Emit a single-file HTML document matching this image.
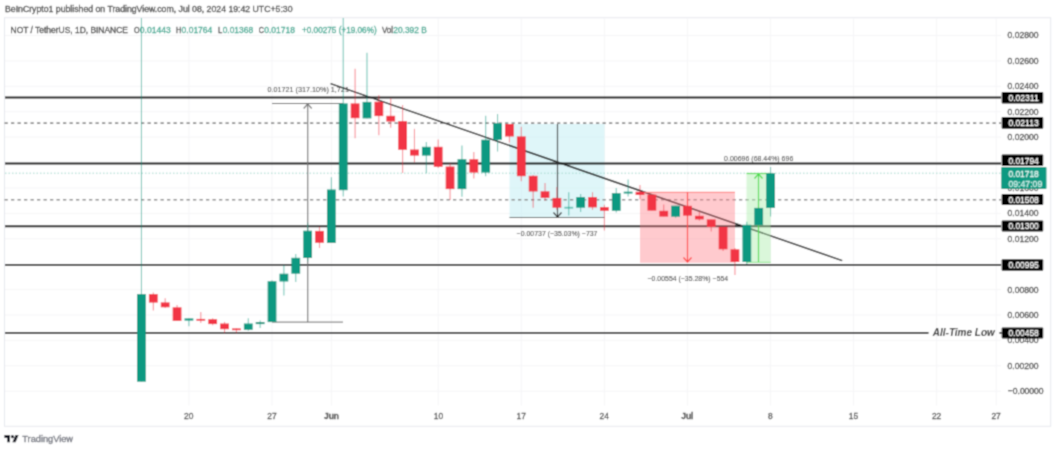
<!DOCTYPE html>
<html><head><meta charset="utf-8"><style>
html,body{margin:0;padding:0;background:#fff;}
body{width:1058px;height:452px;overflow:hidden;}
svg{display:block;font-family:"Liberation Sans",sans-serif;}
</style></head><body>
<svg width="1058" height="452" viewBox="0 0 1058 452">
<defs><filter id="bl" x="0" y="0" width="100%" height="100%"><feConvolveMatrix order="3" kernelMatrix="1 3.0 1 3.0 9.0 3.0 1 3.0 1" edgeMode="duplicate" preserveAlpha="true"/></filter></defs>
<g filter="url(#bl)">
<rect width="1058" height="452" fill="#fff"/>

<text x="5.0" y="12.4" font-size="8.7" fill="#444" stroke="#444" stroke-width="0.3" font-weight="normal" font-style="normal" textLength="287.5" lengthAdjust="spacingAndGlyphs">BeInCrypto1 published on TradingView.com, Jul 08, 2024 19:42 UTC+5:30</text>
<rect x="4.5" y="17.75" width="1046.2" height="408.5" fill="none" stroke="#e6e8ee" stroke-width="1"/>
<line x1="5" y1="35.5" x2="1001" y2="35.5" stroke="#f5f5f7" stroke-width="1"/>
<line x1="5" y1="60.9" x2="1001" y2="60.9" stroke="#f5f5f7" stroke-width="1"/>
<line x1="5" y1="86.3" x2="1001" y2="86.3" stroke="#f5f5f7" stroke-width="1"/>
<line x1="5" y1="111.7" x2="1001" y2="111.7" stroke="#f5f5f7" stroke-width="1"/>
<line x1="5" y1="137.1" x2="1001" y2="137.1" stroke="#f5f5f7" stroke-width="1"/>
<line x1="5" y1="162.5" x2="1001" y2="162.5" stroke="#f5f5f7" stroke-width="1"/>
<line x1="5" y1="188.0" x2="1001" y2="188.0" stroke="#f5f5f7" stroke-width="1"/>
<line x1="5" y1="213.4" x2="1001" y2="213.4" stroke="#f5f5f7" stroke-width="1"/>
<line x1="5" y1="238.8" x2="1001" y2="238.8" stroke="#f5f5f7" stroke-width="1"/>
<line x1="5" y1="264.2" x2="1001" y2="264.2" stroke="#f5f5f7" stroke-width="1"/>
<line x1="5" y1="289.6" x2="1001" y2="289.6" stroke="#f5f5f7" stroke-width="1"/>
<line x1="5" y1="315.0" x2="1001" y2="315.0" stroke="#f5f5f7" stroke-width="1"/>
<line x1="5" y1="340.4" x2="1001" y2="340.4" stroke="#f5f5f7" stroke-width="1"/>
<line x1="5" y1="365.8" x2="1001" y2="365.8" stroke="#f5f5f7" stroke-width="1"/>
<line x1="5" y1="391.2" x2="1001" y2="391.2" stroke="#f5f5f7" stroke-width="1"/>
<line x1="188.9" y1="18" x2="188.9" y2="405.5" stroke="#f5f5f7" stroke-width="1"/>
<line x1="272.0" y1="18" x2="272.0" y2="405.5" stroke="#f5f5f7" stroke-width="1"/>
<line x1="331.4" y1="18" x2="331.4" y2="405.5" stroke="#f5f5f7" stroke-width="1"/>
<line x1="438.2" y1="18" x2="438.2" y2="405.5" stroke="#f5f5f7" stroke-width="1"/>
<line x1="521.3" y1="18" x2="521.3" y2="405.5" stroke="#f5f5f7" stroke-width="1"/>
<line x1="604.4" y1="18" x2="604.4" y2="405.5" stroke="#f5f5f7" stroke-width="1"/>
<line x1="687.4" y1="18" x2="687.4" y2="405.5" stroke="#f5f5f7" stroke-width="1"/>
<line x1="770.4" y1="18" x2="770.4" y2="405.5" stroke="#f5f5f7" stroke-width="1"/>
<line x1="853.5" y1="18" x2="853.5" y2="405.5" stroke="#f5f5f7" stroke-width="1"/>
<line x1="936.6" y1="18" x2="936.6" y2="405.5" stroke="#f5f5f7" stroke-width="1"/>
<line x1="996.2" y1="18" x2="996.2" y2="405.5" stroke="#f5f5f7" stroke-width="1"/>
<rect x="509.5" y="124" width="95" height="93.5" fill="#c5eff4" fill-opacity="0.55"/>
<line x1="5" y1="97.5" x2="1001" y2="97.5" stroke="#0c0c0c" stroke-width="1.8"/>
<line x1="5" y1="163.5" x2="1001" y2="163.5" stroke="#0c0c0c" stroke-width="1.8"/>
<line x1="5" y1="226.25" x2="1001" y2="226.25" stroke="#0c0c0c" stroke-width="1.8"/>
<line x1="5" y1="264.95" x2="1001" y2="264.95" stroke="#0c0c0c" stroke-width="1.8"/>
<line x1="5" y1="332.9" x2="928.5" y2="332.9" stroke="#0c0c0c" stroke-width="1.8"/>
<line x1="999.5" y1="332.9" x2="1001.5" y2="332.9" stroke="#0c0c0c" stroke-width="1.8"/>
<line x1="4.5" y1="123.1" x2="1001" y2="123.1" stroke="#8c8c8c" stroke-width="1.6" stroke-dasharray="3.3 3.2"/>
<line x1="4.5" y1="199.7" x2="1001" y2="199.7" stroke="#8c8c8c" stroke-width="1.6" stroke-dasharray="3.3 3.2"/>
<line x1="5" y1="173.2" x2="1001" y2="173.2" stroke="#9fd8cc" stroke-width="1" stroke-dasharray="1.5 2"/>
<line x1="330.6" y1="83.6" x2="842.2" y2="260.6" stroke="#111" stroke-width="1.5"/>
<rect x="640" y="192" width="95" height="70.8" fill="#ff8a93" fill-opacity="0.45"/>
<rect x="746.5" y="173.3" width="24.2" height="89.5" fill="#b5f0b5" fill-opacity="0.5"/>
<line x1="272" y1="103.5" x2="343" y2="103.5" stroke="#555" stroke-width="1.2"/>
<line x1="272" y1="322.1" x2="343" y2="322.1" stroke="#888" stroke-width="1.2"/>
<line x1="307.7" y1="322.1" x2="307.7" y2="104" stroke="#777" stroke-width="1.2"/>
<polyline points="303.7,108.5 307.7,104 311.7,108.5" fill="none" stroke="#777" stroke-width="1.2"/>
<line x1="509.5" y1="217.5" x2="604.5" y2="217.5" stroke="#555" stroke-width="1.2"/>
<line x1="557.5" y1="124" x2="557.5" y2="217" stroke="#333" stroke-width="1.2"/>
<polyline points="553.5,212.5 557.5,217 561.5,212.5" fill="none" stroke="#333" stroke-width="1.2"/>
<line x1="640" y1="192.3" x2="735" y2="192.3" stroke="#f77" stroke-width="1"/>
<line x1="687.5" y1="192" x2="687.5" y2="262" stroke="#f44" stroke-width="1.2"/>
<polyline points="683.5,257.5 687.5,262 691.5,257.5" fill="none" stroke="#f44" stroke-width="1.2"/>
<line x1="746.5" y1="173.5" x2="770.7" y2="173.5" stroke="#4cdc4c" stroke-width="1.2"/>
<line x1="746.5" y1="262.3" x2="770.7" y2="262.3" stroke="#8ee68e" stroke-width="1"/>
<line x1="758.5" y1="174" x2="758.5" y2="262" stroke="#4cdc4c" stroke-width="1.2"/>
<polyline points="754.5,178.5 758.5,174 762.5,178.5" fill="none" stroke="#4cdc4c" stroke-width="1.2"/>
<line x1="141.45" y1="18.0" x2="141.45" y2="381.7" stroke="#089981" stroke-width="1.1" opacity="0.55"/>
<rect x="137.05" y="294.1" width="8.8" height="87.60" fill="#089981"/>
<line x1="153.32" y1="292.6" x2="153.32" y2="310.4" stroke="#f23645" stroke-width="1.1" opacity="0.55"/>
<rect x="148.92" y="294.1" width="8.8" height="8.50" fill="#f23645"/>
<line x1="165.19" y1="298.2" x2="165.19" y2="308.0" stroke="#f23645" stroke-width="1.1" opacity="0.55"/>
<rect x="160.79" y="302.4" width="8.8" height="4.90" fill="#f23645"/>
<line x1="177.06" y1="305.0" x2="177.06" y2="321.0" stroke="#f23645" stroke-width="1.1" opacity="0.55"/>
<rect x="172.66" y="307.3" width="8.8" height="13.60" fill="#f23645"/>
<line x1="188.93" y1="318.0" x2="188.93" y2="326.2" stroke="#089981" stroke-width="1.1" opacity="0.55"/>
<rect x="184.53" y="318.4" width="8.8" height="2.20" fill="#089981"/>
<line x1="200.80" y1="311.9" x2="200.80" y2="323.1" stroke="#f23645" stroke-width="1.1" opacity="0.55"/>
<rect x="196.40" y="318.9" width="8.8" height="1.80" fill="#f23645"/>
<line x1="212.67" y1="318.2" x2="212.67" y2="325.3" stroke="#f23645" stroke-width="1.1" opacity="0.55"/>
<rect x="208.27" y="319.2" width="8.8" height="4.90" fill="#f23645"/>
<line x1="224.54" y1="321.9" x2="224.54" y2="333.2" stroke="#f23645" stroke-width="1.1" opacity="0.55"/>
<rect x="220.14" y="323.5" width="8.8" height="5.70" fill="#f23645"/>
<line x1="236.41" y1="328.0" x2="236.41" y2="333.2" stroke="#f23645" stroke-width="1.1" opacity="0.55"/>
<rect x="232.01" y="328.4" width="8.8" height="1.80" fill="#f23645"/>
<line x1="248.28" y1="318.2" x2="248.28" y2="330.8" stroke="#089981" stroke-width="1.1" opacity="0.55"/>
<rect x="243.88" y="323.5" width="8.8" height="6.30" fill="#089981"/>
<line x1="260.15" y1="320.4" x2="260.15" y2="328.0" stroke="#089981" stroke-width="1.1" opacity="0.55"/>
<rect x="255.75" y="322.0" width="8.8" height="2.10" fill="#089981"/>
<line x1="272.02" y1="280.2" x2="272.02" y2="322.1" stroke="#089981" stroke-width="1.1" opacity="0.55"/>
<rect x="267.62" y="281.2" width="8.8" height="40.90" fill="#089981"/>
<line x1="283.89" y1="265.0" x2="283.89" y2="295.6" stroke="#089981" stroke-width="1.1" opacity="0.55"/>
<rect x="279.49" y="273.7" width="8.8" height="7.80" fill="#089981"/>
<line x1="295.76" y1="254.0" x2="295.76" y2="282.0" stroke="#089981" stroke-width="1.1" opacity="0.55"/>
<rect x="291.36" y="257.8" width="8.8" height="15.90" fill="#089981"/>
<line x1="307.63" y1="222.7" x2="307.63" y2="261.5" stroke="#089981" stroke-width="1.1" opacity="0.55"/>
<rect x="303.23" y="230.7" width="8.8" height="27.30" fill="#089981"/>
<line x1="319.50" y1="226.7" x2="319.50" y2="248.0" stroke="#f23645" stroke-width="1.1" opacity="0.55"/>
<rect x="315.10" y="230.9" width="8.8" height="11.90" fill="#f23645"/>
<line x1="331.37" y1="177.2" x2="331.37" y2="243.0" stroke="#089981" stroke-width="1.1" opacity="0.55"/>
<rect x="326.97" y="189.5" width="8.8" height="53.50" fill="#089981"/>
<line x1="343.24" y1="18.0" x2="343.24" y2="196.6" stroke="#089981" stroke-width="1.1" opacity="0.55"/>
<rect x="338.84" y="103.4" width="8.8" height="86.80" fill="#089981"/>
<line x1="355.11" y1="68.7" x2="355.11" y2="138.3" stroke="#f23645" stroke-width="1.1" opacity="0.55"/>
<rect x="350.71" y="103.4" width="8.8" height="14.80" fill="#f23645"/>
<line x1="366.98" y1="52.8" x2="366.98" y2="118.4" stroke="#089981" stroke-width="1.1" opacity="0.55"/>
<rect x="362.58" y="101.9" width="8.8" height="16.50" fill="#089981"/>
<line x1="378.85" y1="94.9" x2="378.85" y2="135.2" stroke="#f23645" stroke-width="1.1" opacity="0.55"/>
<rect x="374.45" y="101.7" width="8.8" height="14.40" fill="#f23645"/>
<line x1="390.72" y1="98.5" x2="390.72" y2="127.7" stroke="#f23645" stroke-width="1.1" opacity="0.55"/>
<rect x="386.32" y="115.8" width="8.8" height="5.70" fill="#f23645"/>
<line x1="402.59" y1="105.0" x2="402.59" y2="172.9" stroke="#f23645" stroke-width="1.1" opacity="0.55"/>
<rect x="398.19" y="121.1" width="8.8" height="28.70" fill="#f23645"/>
<line x1="414.46" y1="128.8" x2="414.46" y2="162.3" stroke="#f23645" stroke-width="1.1" opacity="0.55"/>
<rect x="410.06" y="149.5" width="8.8" height="6.10" fill="#f23645"/>
<line x1="426.33" y1="142.0" x2="426.33" y2="173.2" stroke="#089981" stroke-width="1.1" opacity="0.55"/>
<rect x="421.93" y="146.8" width="8.8" height="8.80" fill="#089981"/>
<line x1="438.20" y1="139.4" x2="438.20" y2="167.9" stroke="#f23645" stroke-width="1.1" opacity="0.55"/>
<rect x="433.80" y="146.8" width="8.8" height="20.00" fill="#f23645"/>
<line x1="450.07" y1="163.2" x2="450.07" y2="200.0" stroke="#f23645" stroke-width="1.1" opacity="0.55"/>
<rect x="445.67" y="166.5" width="8.8" height="22.60" fill="#f23645"/>
<line x1="461.94" y1="145.6" x2="461.94" y2="196.8" stroke="#089981" stroke-width="1.1" opacity="0.55"/>
<rect x="457.54" y="159.2" width="8.8" height="29.90" fill="#089981"/>
<line x1="473.81" y1="152.0" x2="473.81" y2="178.6" stroke="#f23645" stroke-width="1.1" opacity="0.55"/>
<rect x="469.41" y="159.2" width="8.8" height="13.40" fill="#f23645"/>
<line x1="485.68" y1="115.8" x2="485.68" y2="176.2" stroke="#089981" stroke-width="1.1" opacity="0.55"/>
<rect x="481.28" y="139.7" width="8.8" height="32.90" fill="#089981"/>
<line x1="497.55" y1="113.9" x2="497.55" y2="151.4" stroke="#089981" stroke-width="1.1" opacity="0.55"/>
<rect x="493.15" y="123.2" width="8.8" height="16.60" fill="#089981"/>
<line x1="509.42" y1="124.0" x2="509.42" y2="142.5" stroke="#f23645" stroke-width="1.1" opacity="0.55"/>
<rect x="505.02" y="124.0" width="8.8" height="12.50" fill="#f23645"/>
<line x1="521.29" y1="126.8" x2="521.29" y2="181.3" stroke="#f23645" stroke-width="1.1" opacity="0.55"/>
<rect x="516.89" y="136.4" width="8.8" height="39.80" fill="#f23645"/>
<line x1="533.16" y1="174.9" x2="533.16" y2="207.8" stroke="#f23645" stroke-width="1.1" opacity="0.55"/>
<rect x="528.76" y="175.8" width="8.8" height="15.70" fill="#f23645"/>
<line x1="545.03" y1="182.9" x2="545.03" y2="200.8" stroke="#f23645" stroke-width="1.1" opacity="0.55"/>
<rect x="540.63" y="191.3" width="8.8" height="6.60" fill="#f23645"/>
<line x1="556.90" y1="186.9" x2="556.90" y2="210.0" stroke="#f23645" stroke-width="1.1" opacity="0.55"/>
<rect x="552.50" y="197.9" width="8.8" height="9.80" fill="#f23645"/>
<line x1="568.77" y1="192.2" x2="568.77" y2="215.4" stroke="#089981" stroke-width="1.1" opacity="0.55"/>
<rect x="564.37" y="206.8" width="8.8" height="1.80" fill="#089981" opacity="0.55"/>
<line x1="580.64" y1="193.9" x2="580.64" y2="212.1" stroke="#089981" stroke-width="1.1" opacity="0.55"/>
<rect x="576.24" y="197.1" width="8.8" height="10.60" fill="#089981"/>
<line x1="592.51" y1="192.2" x2="592.51" y2="209.8" stroke="#f23645" stroke-width="1.1" opacity="0.55"/>
<rect x="588.11" y="197.1" width="8.8" height="10.30" fill="#f23645"/>
<line x1="604.38" y1="204.8" x2="604.38" y2="230.4" stroke="#f23645" stroke-width="1.1" opacity="0.55"/>
<rect x="599.98" y="207.1" width="8.8" height="3.70" fill="#f23645"/>
<line x1="616.25" y1="187.9" x2="616.25" y2="212.5" stroke="#089981" stroke-width="1.1" opacity="0.55"/>
<rect x="611.85" y="193.1" width="8.8" height="17.70" fill="#089981"/>
<line x1="628.12" y1="179.6" x2="628.12" y2="196.6" stroke="#089981" stroke-width="1.1" opacity="0.55"/>
<rect x="623.72" y="191.7" width="8.8" height="1.80" fill="#089981"/>
<line x1="639.99" y1="184.9" x2="639.99" y2="199.3" stroke="#f23645" stroke-width="1.1" opacity="0.55"/>
<rect x="635.59" y="191.8" width="8.8" height="3.20" fill="#f23645"/>
<line x1="651.86" y1="194.6" x2="651.86" y2="210.6" stroke="#f23645" stroke-width="1.1" opacity="0.55"/>
<rect x="647.46" y="194.6" width="8.8" height="16.00" fill="#f23645"/>
<line x1="663.73" y1="204.6" x2="663.73" y2="216.6" stroke="#f23645" stroke-width="1.1" opacity="0.55"/>
<rect x="659.33" y="210.8" width="8.8" height="5.80" fill="#f23645"/>
<line x1="675.60" y1="205.7" x2="675.60" y2="217.7" stroke="#089981" stroke-width="1.1" opacity="0.55"/>
<rect x="671.20" y="205.7" width="8.8" height="11.00" fill="#089981"/>
<line x1="687.47" y1="205.8" x2="687.47" y2="215.6" stroke="#f23645" stroke-width="1.1" opacity="0.55"/>
<rect x="683.07" y="205.8" width="8.8" height="9.80" fill="#f23645"/>
<line x1="699.34" y1="211.7" x2="699.34" y2="220.8" stroke="#f23645" stroke-width="1.1" opacity="0.55"/>
<rect x="694.94" y="215.8" width="8.8" height="3.60" fill="#f23645"/>
<line x1="711.21" y1="219.4" x2="711.21" y2="231.6" stroke="#f23645" stroke-width="1.1" opacity="0.55"/>
<rect x="706.81" y="219.4" width="8.8" height="7.60" fill="#f23645"/>
<line x1="723.08" y1="227.0" x2="723.08" y2="251.1" stroke="#f23645" stroke-width="1.1" opacity="0.55"/>
<rect x="718.68" y="227.0" width="8.8" height="22.30" fill="#f23645"/>
<line x1="734.95" y1="248.0" x2="734.95" y2="275.0" stroke="#f23645" stroke-width="1.1" opacity="0.55"/>
<rect x="730.55" y="249.3" width="8.8" height="12.70" fill="#f23645"/>
<line x1="746.82" y1="221.8" x2="746.82" y2="263.9" stroke="#089981" stroke-width="1.1" opacity="0.55"/>
<rect x="742.42" y="224.8" width="8.8" height="37.20" fill="#089981"/>
<line x1="758.69" y1="207.9" x2="758.69" y2="225.2" stroke="#089981" stroke-width="1.1" opacity="0.55"/>
<rect x="754.29" y="207.9" width="8.8" height="17.30" fill="#089981"/>
<line x1="770.56" y1="166.9" x2="770.56" y2="216.4" stroke="#089981" stroke-width="1.1" opacity="0.55"/>
<rect x="766.16" y="173.2" width="8.8" height="34.70" fill="#089981"/>
<text x="267.5" y="91.6" font-size="7.5" fill="#3a3a3a" stroke="#3a3a3a" stroke-width="0.05" font-weight="normal" font-style="normal" textLength="81.4" lengthAdjust="spacingAndGlyphs">0.01721 (317.10%) 1,721</text>
<text x="516.6" y="235.8" font-size="7.5" fill="#3a3a3a" stroke="#3a3a3a" stroke-width="0.05" font-weight="normal" font-style="normal" textLength="80.9" lengthAdjust="spacingAndGlyphs">−0.00737 (−35.03%) −737</text>
<text x="647.5" y="280.6" font-size="7.5" fill="#3a3a3a" stroke="#3a3a3a" stroke-width="0.05" font-weight="normal" font-style="normal" textLength="80.7" lengthAdjust="spacingAndGlyphs">−0.00554 (−35.28%) −554</text>
<text x="724.1" y="161.2" font-size="7.5" fill="#3a3a3a" stroke="#3a3a3a" stroke-width="0.05" font-weight="normal" font-style="normal" textLength="69.2" lengthAdjust="spacingAndGlyphs">0.00696 (68.44%) 696</text>
<text x="932.8" y="336.0" font-size="10.5" fill="#2a2a2a" font-weight="bold" font-style="italic" textLength="62.0" lengthAdjust="spacingAndGlyphs">All-Time Low</text>
<text x="10.6" y="32.6" font-size="9" fill="#444" stroke="#444" stroke-width="0.3" font-weight="normal" font-style="normal" textLength="117.3" lengthAdjust="spacingAndGlyphs">NOT / TetherUS, 1D, BINANCE</text>
<text x="134.0" y="32.6" font-size="9" fill="#444" stroke="#444" stroke-width="0.3" font-weight="normal" font-style="normal" textLength="5.6" lengthAdjust="spacingAndGlyphs">O</text>
<text x="139.8" y="32.6" font-size="9" fill="#3aa891" stroke="#3aa891" stroke-width="0.3" font-weight="normal" font-style="normal" textLength="30.9" lengthAdjust="spacingAndGlyphs">0.01443</text>
<text x="176.0" y="32.6" font-size="9" fill="#444" stroke="#444" stroke-width="0.3" font-weight="normal" font-style="normal" textLength="5.2" lengthAdjust="spacingAndGlyphs">H</text>
<text x="181.6" y="32.6" font-size="9" fill="#3aa891" stroke="#3aa891" stroke-width="0.3" font-weight="normal" font-style="normal" textLength="30.7" lengthAdjust="spacingAndGlyphs">0.01764</text>
<text x="218.0" y="32.6" font-size="9" fill="#444" stroke="#444" stroke-width="0.3" font-weight="normal" font-style="normal" textLength="4.3" lengthAdjust="spacingAndGlyphs">L</text>
<text x="222.7" y="32.6" font-size="9" fill="#3aa891" stroke="#3aa891" stroke-width="0.3" font-weight="normal" font-style="normal" textLength="30.4" lengthAdjust="spacingAndGlyphs">0.01368</text>
<text x="258.7" y="32.6" font-size="9" fill="#444" stroke="#444" stroke-width="0.3" font-weight="normal" font-style="normal" textLength="5.2" lengthAdjust="spacingAndGlyphs">C</text>
<text x="264.2" y="32.6" font-size="9" fill="#3aa891" stroke="#3aa891" stroke-width="0.3" font-weight="normal" font-style="normal" textLength="30.8" lengthAdjust="spacingAndGlyphs">0.01718</text>
<text x="302.0" y="32.6" font-size="9" fill="#3aa891" stroke="#3aa891" stroke-width="0.3" font-weight="normal" font-style="normal" textLength="74.7" lengthAdjust="spacingAndGlyphs">+0.00275 (+19.06%)</text>
<text x="382.0" y="32.6" font-size="9" fill="#444" stroke="#444" stroke-width="0.3" font-weight="normal" font-style="normal" textLength="11.0" lengthAdjust="spacingAndGlyphs">Vol</text>
<text x="393.3" y="32.6" font-size="9" fill="#3aa891" stroke="#3aa891" stroke-width="0.3" font-weight="normal" font-style="normal" textLength="33.4" lengthAdjust="spacingAndGlyphs">20.392 B</text>
<text x="1007.6" y="38.4" font-size="9.3" fill="#3f3f3f" stroke="#3f3f3f" stroke-width="0.3" font-weight="normal" font-style="normal" textLength="30.9" lengthAdjust="spacingAndGlyphs">0.02800</text>
<text x="1007.6" y="63.8" font-size="9.3" fill="#3f3f3f" stroke="#3f3f3f" stroke-width="0.3" font-weight="normal" font-style="normal" textLength="30.9" lengthAdjust="spacingAndGlyphs">0.02600</text>
<text x="1007.6" y="89.2" font-size="9.3" fill="#3f3f3f" stroke="#3f3f3f" stroke-width="0.3" font-weight="normal" font-style="normal" textLength="30.9" lengthAdjust="spacingAndGlyphs">0.02400</text>
<text x="1007.6" y="114.6" font-size="9.3" fill="#3f3f3f" stroke="#3f3f3f" stroke-width="0.3" font-weight="normal" font-style="normal" textLength="30.9" lengthAdjust="spacingAndGlyphs">0.02200</text>
<text x="1007.6" y="140.0" font-size="9.3" fill="#3f3f3f" stroke="#3f3f3f" stroke-width="0.3" font-weight="normal" font-style="normal" textLength="30.9" lengthAdjust="spacingAndGlyphs">0.02000</text>
<text x="1007.6" y="190.9" font-size="9.3" fill="#3f3f3f" stroke="#3f3f3f" stroke-width="0.3" font-weight="normal" font-style="normal" textLength="30.9" lengthAdjust="spacingAndGlyphs">0.01600</text>
<text x="1007.6" y="216.3" font-size="9.3" fill="#3f3f3f" stroke="#3f3f3f" stroke-width="0.3" font-weight="normal" font-style="normal" textLength="30.9" lengthAdjust="spacingAndGlyphs">0.01400</text>
<text x="1007.6" y="241.7" font-size="9.3" fill="#3f3f3f" stroke="#3f3f3f" stroke-width="0.3" font-weight="normal" font-style="normal" textLength="30.9" lengthAdjust="spacingAndGlyphs">0.01200</text>
<text x="1007.6" y="292.5" font-size="9.3" fill="#3f3f3f" stroke="#3f3f3f" stroke-width="0.3" font-weight="normal" font-style="normal" textLength="30.9" lengthAdjust="spacingAndGlyphs">0.00800</text>
<text x="1007.6" y="317.9" font-size="9.3" fill="#3f3f3f" stroke="#3f3f3f" stroke-width="0.3" font-weight="normal" font-style="normal" textLength="30.9" lengthAdjust="spacingAndGlyphs">0.00600</text>
<text x="1007.6" y="343.3" font-size="9.3" fill="#3f3f3f" stroke="#3f3f3f" stroke-width="0.3" font-weight="normal" font-style="normal" textLength="30.9" lengthAdjust="spacingAndGlyphs">0.00400</text>
<text x="1007.6" y="368.7" font-size="9.3" fill="#3f3f3f" stroke="#3f3f3f" stroke-width="0.3" font-weight="normal" font-style="normal" textLength="30.9" lengthAdjust="spacingAndGlyphs">0.00200</text>
<text x="1007.8" y="394.1" font-size="9.3" fill="#3f3f3f" stroke="#3f3f3f" stroke-width="0.3" font-weight="normal" font-style="normal" textLength="35.8" lengthAdjust="spacingAndGlyphs">−0.00000</text>
<rect x="1001.7" y="91.9" width="41.5" height="11.7" fill="#000" rx="1"/>
<text x="1008.4" y="101.0" font-size="9.3" fill="#fff" stroke="#fff" stroke-width="0.3" font-weight="normal" font-style="normal" textLength="30.4" lengthAdjust="spacingAndGlyphs">0.02311</text>
<rect x="1001.7" y="117.0" width="41.5" height="11.8" fill="#000" rx="1"/>
<text x="1008.4" y="126.2" font-size="9.3" fill="#fff" stroke="#fff" stroke-width="0.3" font-weight="normal" font-style="normal" textLength="30.4" lengthAdjust="spacingAndGlyphs">0.02113</text>
<rect x="1001.7" y="154.5" width="41.5" height="11.4" fill="#000" rx="1"/>
<text x="1008.4" y="163.5" font-size="9.3" fill="#fff" stroke="#fff" stroke-width="0.3" font-weight="normal" font-style="normal" textLength="30.4" lengthAdjust="spacingAndGlyphs">0.01794</text>
<rect x="1001.7" y="194.0" width="41.5" height="11.0" fill="#000" rx="1"/>
<text x="1008.4" y="202.8" font-size="9.3" fill="#fff" stroke="#fff" stroke-width="0.3" font-weight="normal" font-style="normal" textLength="30.4" lengthAdjust="spacingAndGlyphs">0.01508</text>
<rect x="1001.7" y="220.4" width="41.5" height="11.2" fill="#000" rx="1"/>
<text x="1008.4" y="229.3" font-size="9.3" fill="#fff" stroke="#fff" stroke-width="0.3" font-weight="normal" font-style="normal" textLength="30.4" lengthAdjust="spacingAndGlyphs">0.01300</text>
<rect x="1001.7" y="259.3" width="41.5" height="11.5" fill="#000" rx="1"/>
<text x="1008.4" y="268.4" font-size="9.3" fill="#fff" stroke="#fff" stroke-width="0.3" font-weight="normal" font-style="normal" textLength="30.4" lengthAdjust="spacingAndGlyphs">0.00995</text>
<rect x="1001.7" y="327.4" width="41.5" height="11.1" fill="#000" rx="1"/>
<text x="1008.4" y="336.2" font-size="9.3" fill="#fff" stroke="#fff" stroke-width="0.3" font-weight="normal" font-style="normal" textLength="30.4" lengthAdjust="spacingAndGlyphs">0.00458</text>
<rect x="1001.2" y="167" width="45.3" height="22" fill="#089981" rx="1"/>
<text x="1008.4" y="177.0" font-size="9.3" fill="#e8f7f3" stroke="#e8f7f3" stroke-width="0.3" font-weight="normal" font-style="normal" textLength="30.4" lengthAdjust="spacingAndGlyphs">0.01718</text>
<text x="1008.4" y="186.6" font-size="9.3" fill="#d0eee8" stroke="#d0eee8" stroke-width="0.3" font-weight="normal" font-style="normal" textLength="33.9" lengthAdjust="spacingAndGlyphs">09:47:09</text>
<text x="184.1" y="419.2" font-size="9.4" fill="#4a4a4a" stroke="#4a4a4a" stroke-width="0.3" font-weight="normal" font-style="normal" textLength="9.4" lengthAdjust="spacingAndGlyphs">20</text>
<text x="267.2" y="419.2" font-size="9.4" fill="#4a4a4a" stroke="#4a4a4a" stroke-width="0.3" font-weight="normal" font-style="normal" textLength="9.4" lengthAdjust="spacingAndGlyphs">27</text>
<text x="324.0" y="419.2" font-size="9.4" fill="#4a4a4a" stroke="#4a4a4a" stroke-width="0.3" font-weight="bold" font-style="normal" textLength="15.0" lengthAdjust="spacingAndGlyphs">Jun</text>
<text x="433.7" y="419.2" font-size="9.4" fill="#4a4a4a" stroke="#4a4a4a" stroke-width="0.3" font-weight="normal" font-style="normal" textLength="9.4" lengthAdjust="spacingAndGlyphs">10</text>
<text x="516.5" y="419.2" font-size="9.4" fill="#4a4a4a" stroke="#4a4a4a" stroke-width="0.3" font-weight="normal" font-style="normal" textLength="9.4" lengthAdjust="spacingAndGlyphs">17</text>
<text x="599.6" y="419.2" font-size="9.4" fill="#4a4a4a" stroke="#4a4a4a" stroke-width="0.3" font-weight="normal" font-style="normal" textLength="9.4" lengthAdjust="spacingAndGlyphs">24</text>
<text x="681.2" y="419.2" font-size="9.4" fill="#4a4a4a" stroke="#4a4a4a" stroke-width="0.3" font-weight="bold" font-style="normal" textLength="12.2" lengthAdjust="spacingAndGlyphs">Jul</text>
<text x="768.0" y="419.2" font-size="9.4" fill="#4a4a4a" stroke="#4a4a4a" stroke-width="0.3" font-weight="normal" font-style="normal" textLength="4.7" lengthAdjust="spacingAndGlyphs">8</text>
<text x="848.8" y="419.2" font-size="9.4" fill="#4a4a4a" stroke="#4a4a4a" stroke-width="0.3" font-weight="normal" font-style="normal" textLength="9.4" lengthAdjust="spacingAndGlyphs">15</text>
<text x="931.9" y="419.2" font-size="9.4" fill="#4a4a4a" stroke="#4a4a4a" stroke-width="0.3" font-weight="normal" font-style="normal" textLength="9.4" lengthAdjust="spacingAndGlyphs">22</text>
<text x="991.4" y="419.2" font-size="9.4" fill="#4a4a4a" stroke="#4a4a4a" stroke-width="0.3" font-weight="normal" font-style="normal" textLength="9.4" lengthAdjust="spacingAndGlyphs">27</text>
<g fill="#131722" transform="translate(4.4,433.5) scale(0.4)"><path d="M14 22H7V11H0V4h14v18zM28 22h-8l7.5-18h8L28 22z"/><circle cx="20" cy="8" r="4"/></g>
<text x="22.3" y="442.3" font-size="9.3" fill="#6f727c" stroke="#6f727c" stroke-width="0.3" font-weight="normal" font-style="normal" textLength="50.7" lengthAdjust="spacingAndGlyphs">TradingView</text>
</g></svg></body></html>
